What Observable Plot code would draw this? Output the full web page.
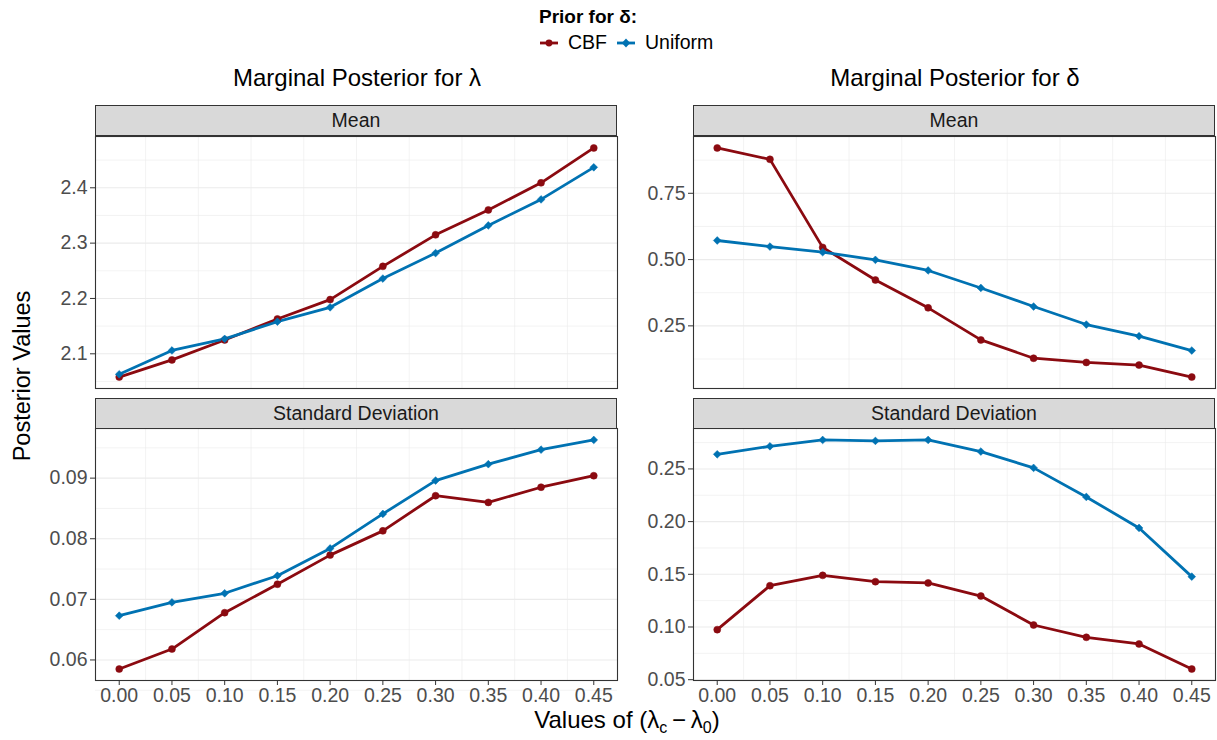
<!DOCTYPE html>
<html>
<head>
<meta charset="utf-8">
<script src="https://cdn.jsdelivr.net/npm/d3@7"></script>
<script src="https://cdn.jsdelivr.net/npm/@observablehq/plot@0.6"></script>
<style>
  html, body { margin: 0; padding: 0; background: #fff; }
  #chart { position: relative; width: 1217px; height: 740px; font-family: "Liberation Sans", Arial, Helvetica, sans-serif; overflow: hidden; }
  .abs { position: absolute; }
  .strip { position: absolute; box-sizing: border-box; background: #d9d9d9; border: 1.1px solid #333; color: #1a1a1a; font-size: 19.5px; display: flex; align-items: center; justify-content: center; }
  .coltitle { position: absolute; font-size: 24px; color: #000; white-space: nowrap; transform: translateX(-50%); }
  .plot-wrap svg { background: transparent !important; }
</style>
</head>
<body>
<div id="chart"></div>
<script>
// ---------- data ----------
const xValues = [0.00, 0.05, 0.10, 0.15, 0.20, 0.25, 0.30, 0.35, 0.40, 0.45];
const xTickLabels = ["0.00", "0.05", "0.10", "0.15", "0.20", "0.25", "0.30", "0.35", "0.40", "0.45"];
const seriesNames = ["CBF", "Uniform"];
const seriesColors = ["#8B0A10", "#0072B2"];

const lambdaMeanCBF     = [2.058, 2.089, 2.125, 2.163, 2.198, 2.258, 2.315, 2.360, 2.409, 2.472];
const lambdaMeanUniform = [2.063, 2.106, 2.127, 2.158, 2.184, 2.236, 2.282, 2.332, 2.379, 2.437];
const deltaMeanCBF      = [0.921, 0.878, 0.546, 0.423, 0.318, 0.197, 0.128, 0.112, 0.102, 0.057];
const deltaMeanUniform  = [0.572, 0.549, 0.528, 0.499, 0.459, 0.393, 0.323, 0.255, 0.211, 0.157];
const lambdaSdCBF       = [0.0585, 0.0618, 0.0678, 0.0725, 0.0773, 0.0813, 0.0871, 0.0860, 0.0885, 0.0904];
const lambdaSdUniform   = [0.0673, 0.0695, 0.0710, 0.0739, 0.0784, 0.0841, 0.0896, 0.0923, 0.0947, 0.0963];
const deltaSdCBF        = [0.0975, 0.1392, 0.1490, 0.1430, 0.1418, 0.1294, 0.1019, 0.0902, 0.0839, 0.0601];
const deltaSdUniform    = [0.2639, 0.2715, 0.2775, 0.2766, 0.2775, 0.2665, 0.2510, 0.2234, 0.1940, 0.1478];

const lambdaMeanTicks = [2.1, 2.2, 2.3, 2.4];
const lambdaMeanTickLabels = ["2.1", "2.2", "2.3", "2.4"];
const lambdaMeanMinor = [2.05, 2.15, 2.25, 2.35, 2.45];
const deltaMeanTicks = [0.25, 0.50, 0.75];
const deltaMeanTickLabels = ["0.25", "0.50", "0.75"];
const deltaMeanMinor = [0.125, 0.375, 0.625, 0.875];
const lambdaSdTicks = [0.06, 0.07, 0.08, 0.09];
const lambdaSdTickLabels = ["0.06", "0.07", "0.08", "0.09"];
const lambdaSdMinor = [0.055, 0.065, 0.075, 0.085, 0.095];
const deltaSdTicks = [0.05, 0.10, 0.15, 0.20, 0.25];
const deltaSdTickLabels = ["0.05", "0.10", "0.15", "0.20", "0.25"];
const deltaSdMinor = [0.075, 0.125, 0.175, 0.225, 0.275];
const xMinor = [0.025, 0.075, 0.125, 0.175, 0.225, 0.275, 0.325, 0.375, 0.425];

// ---------- helpers ----------
const chart = document.getElementById("chart");
const FONT = '"Liberation Sans", Arial, Helvetica, sans-serif';

function rows(cbf, uni) {
  const out = [];
  xValues.forEach((x, i) => out.push({x, y: cbf[i], series: "CBF"}));
  xValues.forEach((x, i) => out.push({x, y: uni[i], series: "Uniform"}));
  return out;
}
function expand(vals, f = 0.05) {
  const [a, b] = d3.extent(vals);
  const p = (b - a) * f;
  return [a - p, b + p];
}

function panel({cbf, uni, ticks, labels, minor, showX, svgLeft, svgTop, mLeft, stripTop, stripH, stripText}) {
  const plotW = 522, plotH = 252;
  const mTop = 1, mBottom = showX ? 40 : 1, mRight = 1;
  const data = rows(cbf, uni);
  const xd = expand(xValues);
  const yd = expand(data.map(d => d.y));
  const labelOf = new Map(ticks.map((t, i) => [t, labels[i]]));
  const xLabelOf = new Map(xValues.map((t, i) => [t, xTickLabels[i]]));
  const marks = [
    Plot.ruleY(minor, {stroke: "#ebebeb", strokeWidth: 0.6}),
    Plot.ruleX(xMinor, {stroke: "#ebebeb", strokeWidth: 0.6}),
    Plot.ruleY(ticks, {stroke: "#ebebeb", strokeWidth: 1.1}),
    Plot.line(data, {x: "x", y: "y", z: "series", stroke: "series", strokeWidth: 2.8}),
    Plot.dot(data, {x: "x", y: "y", fill: "series", symbol: "series", r: 3.5, stroke: "series", strokeWidth: 0.5}),
    Plot.frame({stroke: "#333", strokeWidth: 1.1}),
    Plot.axisY(ticks, {tickFormat: d => labelOf.get(d), tickSize: 5, tickPadding: 3, stroke: "#333", fill: "#4d4d4d", fontSize: 19.5, label: null})
  ];
  if (showX) {
    marks.push(Plot.axisX(xValues, {tickFormat: d => xLabelOf.get(d), tickSize: 5, tickPadding: 3, stroke: "#333", fill: "#4d4d4d", fontSize: 19.5, label: null}));
  }
  const svg = Plot.plot({
    width: mLeft + plotW + mRight,
    height: mTop + plotH + mBottom,
    marginLeft: mLeft, marginRight: mRight, marginTop: mTop, marginBottom: mBottom,
    x: {domain: xd, axis: null},
    y: {domain: yd, axis: null},
    color: {domain: seriesNames, range: seriesColors},
    symbol: {domain: seriesNames, range: ["circle", "diamond2"]},
    style: {fontFamily: FONT, fontSize: "19.5px", background: "transparent", overflow: "visible"},
    marks
  });
  const wrap = document.createElement("div");
  wrap.className = "abs plot-wrap";
  wrap.style.left = svgLeft + "px";
  wrap.style.top = svgTop + "px";
  wrap.appendChild(svg);
  chart.appendChild(wrap);

  const strip = document.createElement("div");
  strip.className = "strip";
  strip.style.left = (svgLeft + mLeft) + "px";
  strip.style.top = stripTop + "px";
  strip.style.width = plotW + "px";
  strip.style.height = stripH + "px";
  strip.textContent = stripText;
  chart.appendChild(strip);
}

// ---------- panels ----------
panel({cbf: lambdaMeanCBF, uni: lambdaMeanUniform, ticks: lambdaMeanTicks, labels: lambdaMeanTickLabels, minor: lambdaMeanMinor,
  showX: false, svgLeft: 0, svgTop: 135, mLeft: 95, stripTop: 104.5, stripH: 31.5, stripText: "Mean"});
panel({cbf: deltaMeanCBF, uni: deltaMeanUniform, ticks: deltaMeanTicks, labels: deltaMeanTickLabels, minor: deltaMeanMinor,
  showX: false, svgLeft: 600, svgTop: 135, mLeft: 93, stripTop: 104.5, stripH: 31.5, stripText: "Mean"});
panel({cbf: lambdaSdCBF, uni: lambdaSdUniform, ticks: lambdaSdTicks, labels: lambdaSdTickLabels, minor: lambdaSdMinor,
  showX: true, svgLeft: 0, svgTop: 427, mLeft: 95, stripTop: 397.5, stripH: 31, stripText: "Standard Deviation"});
panel({cbf: deltaSdCBF, uni: deltaSdUniform, ticks: deltaSdTicks, labels: deltaSdTickLabels, minor: deltaSdMinor,
  showX: true, svgLeft: 600, svgTop: 427, mLeft: 93, stripTop: 397.5, stripH: 31, stripText: "Standard Deviation"});

// ---------- titles ----------
function addText(html, style, cls) {
  const el = document.createElement("div");
  if (cls) el.className = cls;
  el.style.position = "absolute";
  Object.assign(el.style, style);
  el.innerHTML = html;
  chart.appendChild(el);
  return el;
}
addText("Marginal Posterior for λ", {left: "357px", top: "64px"}, "coltitle");
addText("Marginal Posterior for δ", {left: "955px", top: "64px"}, "coltitle");

addText("Posterior Values", {left: "22px", top: "376px", fontSize: "23.5px", whiteSpace: "nowrap", transform: "translate(-50%,-50%) rotate(-90deg)"});

addText('Values of (λ<sub style="font-size:16px;vertical-align:-5px;line-height:0">c</sub>&thinsp;−&thinsp;λ<sub style="font-size:16px;vertical-align:-5px;line-height:0">0</sub>)',
  {left: "627px", top: "706px", fontSize: "24px", whiteSpace: "nowrap", transform: "translateX(-50%)"});

// ---------- legend ----------
addText('<b>Prior for </b><span style="font-weight:bold">δ:</span>', {left: "588px", top: "6px", fontSize: "19px", whiteSpace: "nowrap", transform: "translateX(-50%)"});
function key(color, shape) {
  const marker = shape === "circle"
    ? `<circle cx="9" cy="7" r="3.4" fill="${color}"/>`
    : `<path d="M9,2.4 L13.2,7 L9,11.6 L4.8,7 Z" fill="${color}"/>`;
  return `<svg width="18" height="14" style="vertical-align:-1px"><line x1="0" y1="7" x2="18" y2="7" stroke="${color}" stroke-width="2.8"/>${marker}</svg>`;
}
addText(`${key(seriesColors[0], "circle")}<span style="margin-left:10px">${seriesNames[0]}</span>` +
        `<span style="display:inline-block;width:10px"></span>${key(seriesColors[1], "diamond")}<span style="margin-left:10px">${seriesNames[1]}</span>`,
  {left: "540px", top: "31px", fontSize: "19.5px", whiteSpace: "nowrap"});
</script>
</body>
</html>
